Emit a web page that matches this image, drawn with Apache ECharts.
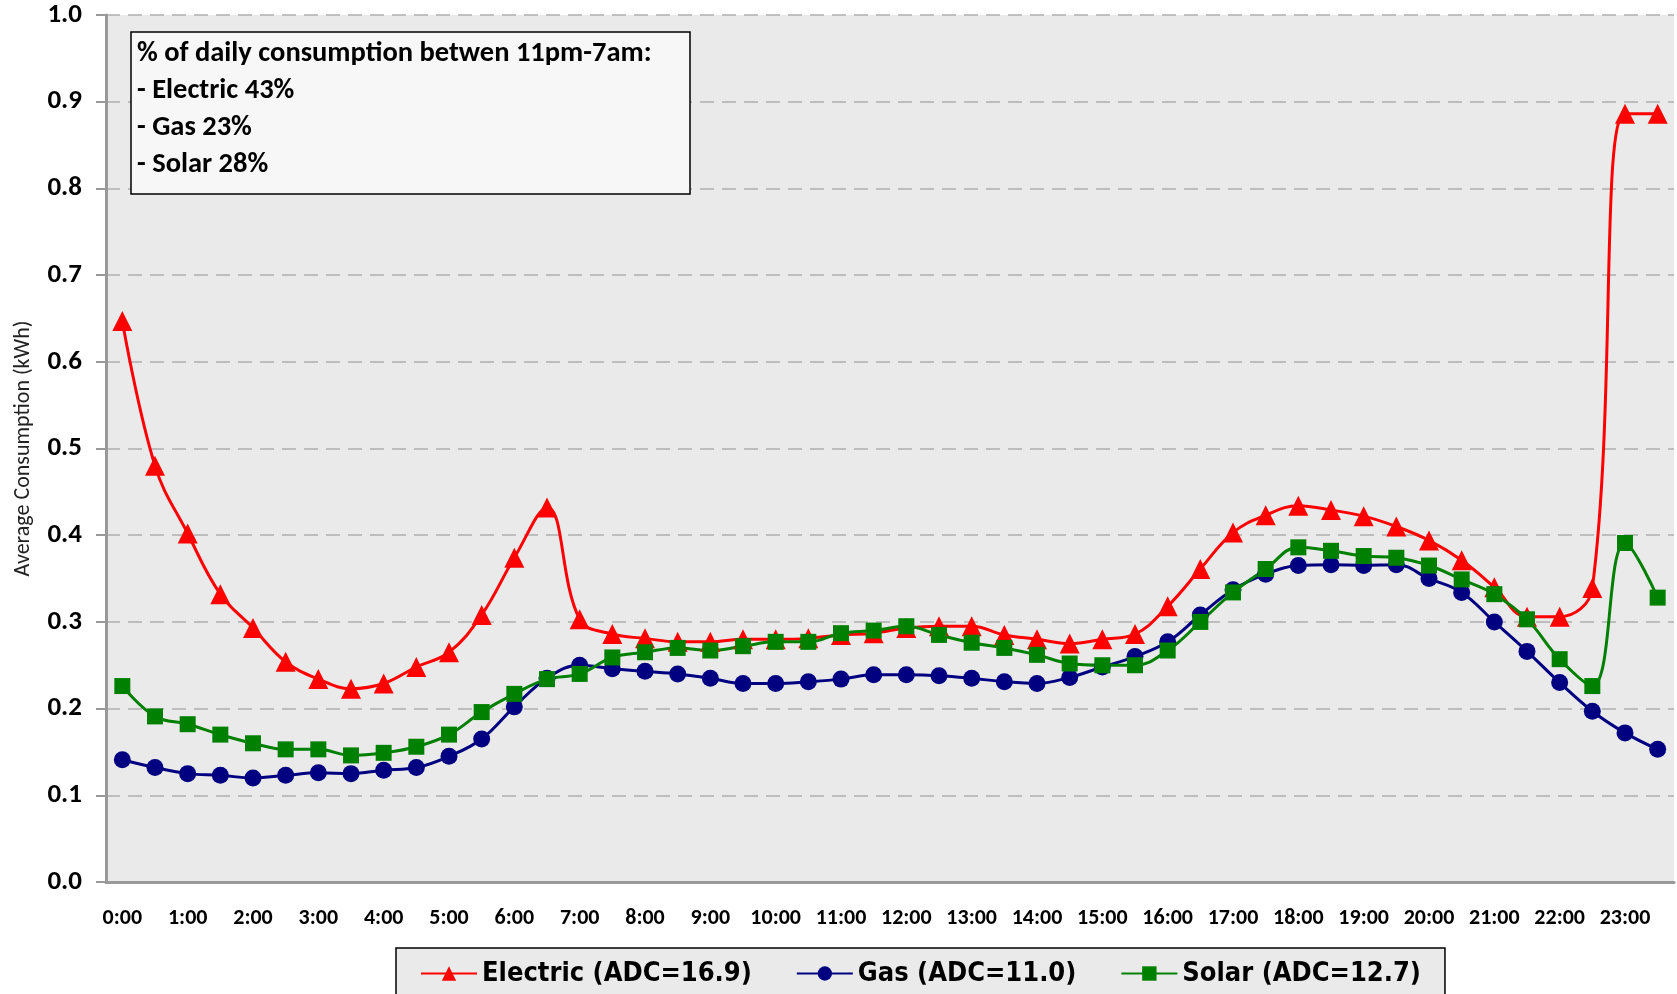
<!DOCTYPE html>
<html>
<head>
<meta charset="utf-8">
<script src="https://cdn.jsdelivr.net/npm/echarts@6.0.0/dist/echarts.min.js"></script>
<style>
  html, body { margin: 0; padding: 0; background: #fff; }
  #chart { width: 1677px; height: 994px; }
</style>
</head>
<body>
<div id="chart"></div>
<script>
// half-hour slots
const times = [
  "0:00","0:30","1:00","1:30","2:00","2:30","3:00","3:30","4:00","4:30","5:00","5:30",
  "6:00","6:30","7:00","7:30","8:00","8:30","9:00","9:30","10:00","10:30","11:00","11:30",
  "12:00","12:30","13:00","13:30","14:00","14:30","15:00","15:30","16:00","16:30","17:00","17:30",
  "18:00","18:30","19:00","19:30","20:00","20:30","21:00","21:30","22:00","22:30","23:00","23:30"
];

const electric = [
  0.647, 0.480, 0.402, 0.332, 0.293, 0.254, 0.234, 0.223, 0.229, 0.248, 0.265, 0.308,
  0.374, 0.432, 0.303, 0.286, 0.281, 0.277, 0.277, 0.280, 0.280, 0.281, 0.285, 0.287,
  0.293, 0.295, 0.295, 0.285, 0.280, 0.275, 0.280, 0.286, 0.318, 0.361, 0.403, 0.423,
  0.434, 0.429, 0.422, 0.410, 0.394, 0.371, 0.340, 0.306, 0.306, 0.339, 0.886, 0.886
];

const gas = [
  0.141, 0.132, 0.125, 0.123, 0.120, 0.123, 0.126, 0.125, 0.129, 0.132, 0.145, 0.165,
  0.202, 0.235, 0.250, 0.246, 0.243, 0.240, 0.235, 0.229, 0.229, 0.231, 0.234, 0.239,
  0.239, 0.238, 0.235, 0.231, 0.229, 0.236, 0.248, 0.260, 0.277, 0.308, 0.337, 0.355,
  0.365, 0.366, 0.365, 0.366, 0.350, 0.334, 0.300, 0.266, 0.230, 0.197, 0.172, 0.153
];

const solar = [
  0.226, 0.191, 0.182, 0.170, 0.160, 0.153, 0.153, 0.146, 0.149, 0.156, 0.170, 0.196,
  0.217, 0.234, 0.240, 0.259, 0.265, 0.270, 0.267, 0.272, 0.277, 0.277, 0.287, 0.290,
  0.295, 0.285, 0.276, 0.270, 0.262, 0.252, 0.250, 0.250, 0.267, 0.300, 0.334, 0.361,
  0.386, 0.382, 0.376, 0.374, 0.365, 0.349, 0.332, 0.303, 0.257, 0.226, 0.391, 0.328
];

const seriesNames = ["Electric (ADC=16.9)", "Gas (ADC=11.0)", "Solar (ADC=12.7)"];
const noteLines = [
  "% of daily consumption betwen 11pm-7am:",
  "- Electric 43%",
  "- Gas 23%",
  "- Solar 28%"
];

const labelFont = "Carlito, Lato, 'Open Sans', sans-serif";
const legendFont = "'Liberation Sans Narrow', 'Arial Narrow', 'DejaVu Sans Condensed', sans-serif";

const chart = echarts.init(document.getElementById("chart"));

function lineSeries(name, data, color, symbol, size) {
  return {
    name: name,
    type: "line",
    data: data,
    smooth: 0.4,
    symbol: symbol,
    symbolSize: size,
    showAllSymbol: true,
    lineStyle: { color: color, width: 3 },
    itemStyle: { color: color },
    emphasis: { disabled: true },
    animation: false
  };
}

chart.setOption({
  animation: false,
  grid: {
    left: 106, right: 3, top: 15, bottom: 112,
    show: true, backgroundColor: "#EAEAEA", borderWidth: 0,
    outerBoundsMode: "none"
  },
  xAxis: {
    type: "category",
    data: times,
    boundaryGap: true,
    axisLine: { lineStyle: { color: "#999", width: 3 } },
    axisTick: { interval: 0, length: 8, lineStyle: { color: "#999", width: 2 } },
    axisLabel: {
      interval: 1, margin: 25, color: "#000",
      fontFamily: labelFont, fontWeight: "bold", fontSize: 22
    },
    splitLine: { show: false }
  },
  yAxis: {
    type: "value",
    min: 0, max: 1, interval: 0.1,
    name: "Average Consumption (kWh)",
    nameLocation: "middle",
    nameRotate: 90,
    nameGap: 72,
    nameTextStyle: { fontFamily: labelFont, fontSize: 22, color: "#222" },
    axisLine: { show: true, lineStyle: { color: "#999", width: 3 } },
    axisTick: { show: true, length: 10, lineStyle: { color: "#999", width: 2 } },
    axisLabel: {
      margin: 24, color: "#000",
      fontFamily: labelFont, fontWeight: "bold", fontSize: 27,
      formatter: v => v.toFixed(1)
    },
    splitLine: { lineStyle: { color: "#AEAEAE", width: 1.5, type: [14, 8] } }
  },
  legend: {
    left: 396, top: 948,
    padding: [12, 24, 30, 24],
    backgroundColor: "#EAEAEA",
    borderColor: "#000", borderWidth: 1.5,
    itemGap: 44, itemWidth: 56, itemHeight: 18,
    textStyle: { fontFamily: legendFont, fontWeight: "bold", fontSize: 27, color: "#000" },
    data: seriesNames
  },
  series: [
    lineSeries(seriesNames[0], electric, "#FF0000", "triangle", 20),
    lineSeries(seriesNames[1], gas, "#000080", "circle", 17),
    lineSeries(seriesNames[2], solar, "#008000", "rect", 16)
  ],
  graphic: [
    {
      type: "rect",
      shape: { x: 131, y: 32, width: 559, height: 162 },
      style: { fill: "#F7F7F7", stroke: "#000", lineWidth: 1.5 },
      z: 100
    },
    {
      type: "text",
      x: 137, y: 35,
      style: {
        text: noteLines.join("\n"),
        font: "bold 28.5px " + labelFont,
        lineHeight: 37,
        fill: "#000",
        verticalAlign: "top"
      },
      z: 101
    }
  ]
});
</script>
</body>
</html>
